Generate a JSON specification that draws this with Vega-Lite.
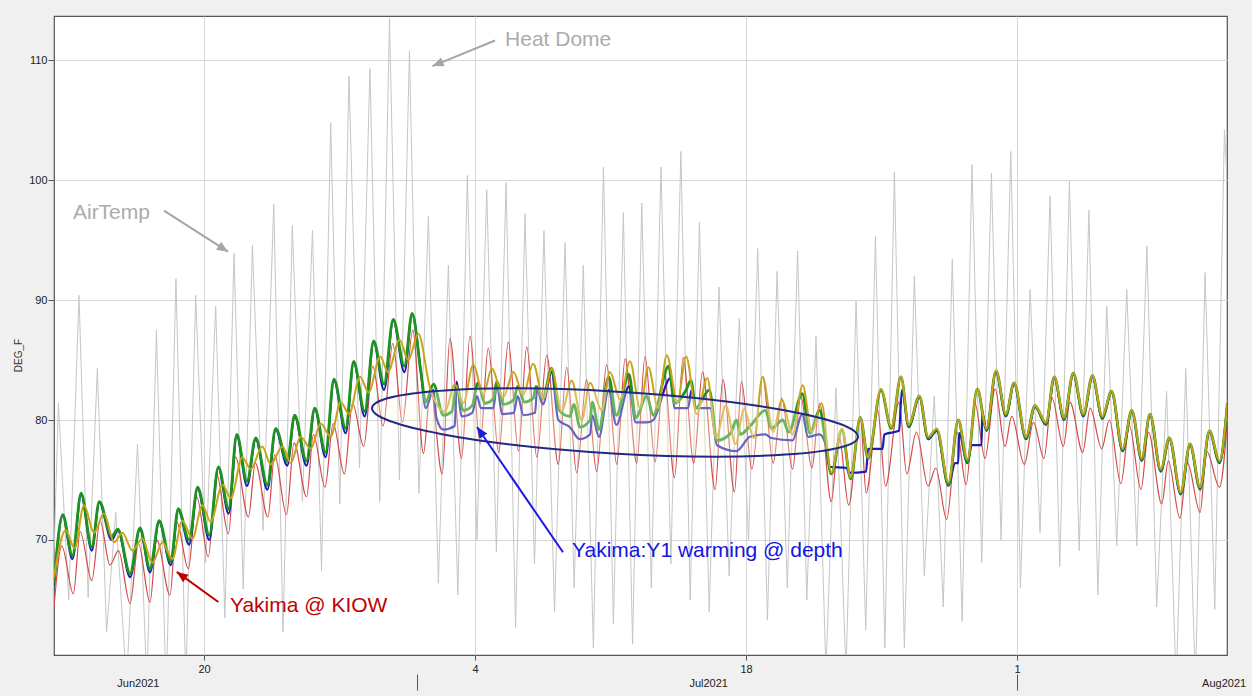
{
"$schema":"https://vega.github.io/schema/vega-lite/v6.json",
"width":1173,"height":639,
"autosize":{"type":"none"},
"padding":{"left":54,"top":16,"right":25,"bottom":41},
"background":"#f0f0f0",
"config":{"view":{"fill":"white","stroke":"#555555","strokeWidth":1.2},"font":"Liberation Sans"},
"datasets":{
"air":[{"t":"2021-06-12T04:00","v":64},{"t":"2021-06-12T11:30","v":81.4},{"t":"2021-06-13T00:15","v":65.0},{"t":"2021-06-13T13:00","v":90.4},{"t":"2021-06-14T00:20","v":65.2},{"t":"2021-06-14T11:45","v":84.3},{"t":"2021-06-14T23:10","v":62.3},{"t":"2021-06-15T10:30","v":72.3},{"t":"2021-06-16T00:00","v":58},{"t":"2021-06-16T13:30","v":78.0},{"t":"2021-06-17T01:10","v":58},{"t":"2021-06-17T13:00","v":87.5},{"t":"2021-06-18T01:05","v":57},{"t":"2021-06-18T13:10","v":91.8},{"t":"2021-06-19T01:25","v":58},{"t":"2021-06-19T13:40","v":90.4},{"t":"2021-06-20T02:00","v":68.1},{"t":"2021-06-20T14:25","v":89.5},{"t":"2021-06-21T01:50","v":63.5},{"t":"2021-06-21T13:10","v":93.9},{"t":"2021-06-22T00:35","v":65.9},{"t":"2021-06-22T12:00","v":94.6},{"t":"2021-06-23T01:10","v":70.8},{"t":"2021-06-23T14:25","v":98.0},{"t":"2021-06-24T01:55","v":62.3},{"t":"2021-06-24T13:25","v":96.2},{"t":"2021-06-25T01:55","v":73.2},{"t":"2021-06-25T14:25","v":95.8},{"t":"2021-06-26T01:40","v":67.4},{"t":"2021-06-26T13:00","v":104.8},{"t":"2021-06-27T00:20","v":73.0},{"t":"2021-06-27T11:45","v":108.7},{"t":"2021-06-28T00:45","v":76},{"t":"2021-06-28T13:40","v":109.3},{"t":"2021-06-29T01:50","v":73.2},{"t":"2021-06-29T13:55","v":113.5},{"t":"2021-06-30T02:15","v":75},{"t":"2021-06-30T14:40","v":110.8},{"t":"2021-07-01T02:25","v":73.9},{"t":"2021-07-01T14:10","v":97.0},{"t":"2021-07-02T02:30","v":66.4},{"t":"2021-07-02T14:55","v":92.9},{"t":"2021-07-03T02:40","v":65.4},{"t":"2021-07-03T14:25","v":100.4},{"t":"2021-07-04T02:25","v":70},{"t":"2021-07-04T14:25","v":99.2},{"t":"2021-07-05T02:25","v":69},{"t":"2021-07-05T14:25","v":99.8},{"t":"2021-07-06T02:10","v":62.7},{"t":"2021-07-06T13:55","v":97.2},{"t":"2021-07-07T01:40","v":68},{"t":"2021-07-07T13:25","v":95.8},{"t":"2021-07-08T02:30","v":64},{"t":"2021-07-08T15:35","v":94.8},{"t":"2021-07-09T02:50","v":66},{"t":"2021-07-09T14:10","v":92.9},{"t":"2021-07-10T02:40","v":61},{"t":"2021-07-10T15:10","v":101.1},{"t":"2021-07-11T03:30","v":63},{"t":"2021-07-11T15:50","v":97.3},{"t":"2021-07-12T03:15","v":61.3},{"t":"2021-07-12T14:40","v":98.1},{"t":"2021-07-13T02:30","v":66},{"t":"2021-07-13T14:25","v":101.1},{"t":"2021-07-14T02:45","v":68},{"t":"2021-07-14T15:10","v":102.4},{"t":"2021-07-15T02:40","v":65},{"t":"2021-07-15T14:10","v":96.5},{"t":"2021-07-16T02:15","v":64},{"t":"2021-07-16T14:25","v":91.1},{"t":"2021-07-17T03:00","v":67},{"t":"2021-07-17T15:35","v":88.5},{"t":"2021-07-18T03:00","v":70},{"t":"2021-07-18T14:25","v":94.3},{"t":"2021-07-19T02:25","v":63.3},{"t":"2021-07-19T14:25","v":92.4},{"t":"2021-07-20T03:05","v":66},{"t":"2021-07-20T15:50","v":94.1},{"t":"2021-07-21T03:15","v":65},{"t":"2021-07-21T14:40","v":87.0},{"t":"2021-07-22T03:00","v":59},{"t":"2021-07-22T15:20","v":82.7},{"t":"2021-07-23T03:50","v":59},{"t":"2021-07-23T16:20","v":89.9},{"t":"2021-07-24T04:20","v":62.5},{"t":"2021-07-24T16:20","v":95.3},{"t":"2021-07-25T04:05","v":61},{"t":"2021-07-25T15:50","v":100.7},{"t":"2021-07-26T04:10","v":61},{"t":"2021-07-26T16:35","v":92.0},{"t":"2021-07-27T04:55","v":67},{"t":"2021-07-27T17:15","v":82.0},{"t":"2021-07-28T04:25","v":64.4},{"t":"2021-07-28T15:35","v":93.4},{"t":"2021-07-29T03:50","v":63.2},{"t":"2021-07-29T16:05","v":101.3},{"t":"2021-07-30T04:05","v":68.1},{"t":"2021-07-30T16:05","v":100.6},{"t":"2021-07-31T04:05","v":70},{"t":"2021-07-31T16:05","v":102.4},{"t":"2021-08-01T04:05","v":66},{"t":"2021-08-01T16:05","v":90.9},{"t":"2021-08-02T04:25","v":70.6},{"t":"2021-08-02T16:50","v":98.7},{"t":"2021-08-03T04:50","v":67.8},{"t":"2021-08-03T16:50","v":99.9},{"t":"2021-08-04T04:55","v":69.1},{"t":"2021-08-04T17:00","v":97.5},{"t":"2021-08-05T04:05","v":65.4},{"t":"2021-08-05T15:05","v":89.5},{"t":"2021-08-06T03:30","v":69.5},{"t":"2021-08-06T15:50","v":90.9},{"t":"2021-08-07T04:20","v":69.5},{"t":"2021-08-07T16:50","v":94.5},{"t":"2021-08-08T05:00","v":64.4},{"t":"2021-08-08T17:15","v":82.4},{"t":"2021-08-09T05:10","v":58},{"t":"2021-08-09T17:00","v":84.3},{"t":"2021-08-10T05:00","v":58},{"t":"2021-08-10T17:00","v":92.3},{"t":"2021-08-11T05:00","v":64.2},{"t":"2021-08-11T17:00","v":104.2},{"t":"2021-08-11T21:00","v":99}],
"red":[{"t":"2021-06-12T06:00","v":64.4},{"t":"2021-06-12T15:35","v":69.5},{"t":"2021-06-13T06:00","v":65.5},{"t":"2021-06-13T14:25","v":70.7},{"t":"2021-06-14T04:50","v":66.6},{"t":"2021-06-14T15:10","v":71.6},{"t":"2021-06-15T03:20","v":67.9},{"t":"2021-06-15T13:55","v":69.1},{"t":"2021-06-16T04:20","v":64.7},{"t":"2021-06-16T14:40","v":69.7},{"t":"2021-06-17T05:00","v":64.8},{"t":"2021-06-17T13:25","v":70.0},{"t":"2021-06-18T05:45","v":65.4},{"t":"2021-06-18T14:10","v":71.5},{"t":"2021-06-19T04:35","v":67.6},{"t":"2021-06-19T14:55","v":73.6},{"t":"2021-06-20T05:15","v":68.6},{"t":"2021-06-20T15:35","v":75.5},{"t":"2021-06-21T06:15","v":70.5},{"t":"2021-06-21T14:55","v":76.9},{"t":"2021-06-22T07:00","v":71.9},{"t":"2021-06-22T15:35","v":76.4},{"t":"2021-06-23T07:10","v":71.9},{"t":"2021-06-23T15:35","v":77.1},{"t":"2021-06-24T06:15","v":72.1},{"t":"2021-06-24T15:35","v":78.1},{"t":"2021-06-25T07:10","v":73.6},{"t":"2021-06-25T15:35","v":78.8},{"t":"2021-06-26T06:00","v":74.4},{"t":"2021-06-26T16:05","v":79.7},{"t":"2021-06-27T06:00","v":75.5},{"t":"2021-06-27T16:05","v":81.4},{"t":"2021-06-28T06:00","v":77.8},{"t":"2021-06-28T17:15","v":84.5},{"t":"2021-06-29T06:00","v":79.5},{"t":"2021-06-29T18:00","v":86.4},{"t":"2021-06-30T06:00","v":79.8},{"t":"2021-06-30T18:45","v":87.5},{"t":"2021-07-01T08:00","v":77.2},{"t":"2021-07-01T16:50","v":82.7},{"t":"2021-07-02T07:10","v":75.5},{"t":"2021-07-02T16:50","v":86.8},{"t":"2021-07-03T07:10","v":76.8},{"t":"2021-07-03T17:45","v":87.0},{"t":"2021-07-04T06:15","v":78.0},{"t":"2021-07-04T16:20","v":86.0},{"t":"2021-07-05T05:15","v":77.3},{"t":"2021-07-05T17:15","v":86.5},{"t":"2021-07-06T05:45","v":77.4},{"t":"2021-07-06T16:05","v":86.1},{"t":"2021-07-07T04:35","v":76.9},{"t":"2021-07-07T16:50","v":85.4},{"t":"2021-07-08T07:10","v":76.3},{"t":"2021-07-08T17:30","v":84.4},{"t":"2021-07-09T06:00","v":75.6},{"t":"2021-07-09T18:15","v":83.4},{"t":"2021-07-10T06:40","v":75.7},{"t":"2021-07-10T19:10","v":84.6},{"t":"2021-07-11T07:40","v":76.3},{"t":"2021-07-11T18:00","v":85.1},{"t":"2021-07-12T08:25","v":76.4},{"t":"2021-07-12T18:45","v":85.3},{"t":"2021-07-13T07:10","v":76.5},{"t":"2021-07-13T18:00","v":84.2},{"t":"2021-07-14T07:10","v":75.2},{"t":"2021-07-14T18:00","v":85.2},{"t":"2021-07-15T07:10","v":76.4},{"t":"2021-07-15T18:00","v":84.0},{"t":"2021-07-16T09:35","v":74.2},{"t":"2021-07-16T19:10","v":83.4},{"t":"2021-07-17T09:35","v":74.0},{"t":"2021-07-17T18:15","v":83.2},{"t":"2021-07-18T07:10","v":75.9},{"t":"2021-07-18T20:25","v":83.6},{"t":"2021-07-19T09:35","v":76.4},{"t":"2021-07-19T20:10","v":81.8},{"t":"2021-07-20T09:35","v":75.9},{"t":"2021-07-20T19:40","v":82.0},{"t":"2021-07-21T09:35","v":76.0},{"t":"2021-07-21T19:10","v":81.4},{"t":"2021-07-22T09:35","v":73.2},{"t":"2021-07-22T19:10","v":78.7},{"t":"2021-07-23T07:10","v":72.9},{"t":"2021-07-23T21:35","v":80.3},{"t":"2021-07-24T04:50","v":73.9},{"t":"2021-07-24T19:10","v":80.8},{"t":"2021-07-25T04:50","v":74.5},{"t":"2021-07-25T21:35","v":81.5},{"t":"2021-07-26T07:10","v":75.5},{"t":"2021-07-26T19:10","v":79.0},{"t":"2021-07-27T09:35","v":74.5},{"t":"2021-07-27T19:10","v":76.0},{"t":"2021-07-28T08:40","v":71.7},{"t":"2021-07-28T21:35","v":79.0},{"t":"2021-07-29T08:40","v":74.6},{"t":"2021-07-29T19:40","v":81.4},{"t":"2021-07-30T08:10","v":76.8},{"t":"2021-07-30T20:40","v":82.6},{"t":"2021-07-31T08:55","v":77.8},{"t":"2021-07-31T17:15","v":80.3},{"t":"2021-08-01T08:55","v":76.3},{"t":"2021-08-01T20:10","v":79.8},{"t":"2021-08-02T09:20","v":76.8},{"t":"2021-08-02T18:55","v":81.9},{"t":"2021-08-03T09:20","v":77.8},{"t":"2021-08-03T17:30","v":81.5},{"t":"2021-08-04T09:20","v":77.3},{"t":"2021-08-04T18:30","v":81.0},{"t":"2021-08-05T08:55","v":77.6},{"t":"2021-08-05T18:15","v":80.0},{"t":"2021-08-06T08:40","v":74.7},{"t":"2021-08-06T19:10","v":79.5},{"t":"2021-08-07T09:35","v":74.2},{"t":"2021-08-07T18:45","v":79.0},{"t":"2021-08-08T11:15","v":73.0},{"t":"2021-08-08T19:25","v":76.6},{"t":"2021-08-09T09:50","v":71.8},{"t":"2021-08-09T19:10","v":76.4},{"t":"2021-08-10T10:50","v":72.3},{"t":"2021-08-10T18:55","v":77.4},{"t":"2021-08-11T10:50","v":74.4},{"t":"2021-08-11T20:40","v":80.0}],
"green":[{"t":"2021-06-12T06:00","v":66.4},{"t":"2021-06-12T16:50","v":72.1},{"t":"2021-06-13T04:50","v":68.7},{"t":"2021-06-13T15:35","v":73.9},{"t":"2021-06-14T04:50","v":69.4},{"t":"2021-06-14T14:10","v":73.2},{"t":"2021-06-15T05:30","v":70.3},{"t":"2021-06-15T13:10","v":70.9},{"t":"2021-06-16T04:20","v":67.2},{"t":"2021-06-16T16:35","v":71.0},{"t":"2021-06-17T05:00","v":67.6},{"t":"2021-06-17T16:20","v":71.6},{"t":"2021-06-18T06:40","v":68.2},{"t":"2021-06-18T16:05","v":72.6},{"t":"2021-06-19T05:30","v":70.0},{"t":"2021-06-19T16:05","v":74.4},{"t":"2021-06-20T06:30","v":70.4},{"t":"2021-06-20T17:45","v":76.1},{"t":"2021-06-21T06:30","v":72.6},{"t":"2021-06-21T16:35","v":78.8},{"t":"2021-06-22T05:15","v":74.9},{"t":"2021-06-22T16:05","v":78.5},{"t":"2021-06-23T06:30","v":74.6},{"t":"2021-06-23T16:50","v":79.3},{"t":"2021-06-24T07:10","v":76.6},{"t":"2021-06-24T16:20","v":80.4},{"t":"2021-06-25T07:00","v":76.6},{"t":"2021-06-25T17:15","v":81.0},{"t":"2021-06-26T06:40","v":77.3},{"t":"2021-06-26T17:00","v":83.4},{"t":"2021-06-27T07:40","v":79.3},{"t":"2021-06-27T17:30","v":84.9},{"t":"2021-06-28T07:10","v":80.7},{"t":"2021-06-28T18:15","v":86.6},{"t":"2021-06-29T07:10","v":83.0},{"t":"2021-06-29T18:30","v":88.4},{"t":"2021-06-30T08:25","v":84.5},{"t":"2021-06-30T18:00","v":88.9},{"t":"2021-07-01T04:50","v":84.0},{"t":"2021-07-01T10:50","v":81.5},{"t":"2021-07-01T20:25","v":83.0},{"t":"2021-07-02T08:40","v":80.4},{"t":"2021-07-02T19:10","v":80.7},{"t":"2021-07-03T01:10","v":82.8},{"t":"2021-07-03T09:20","v":80.8},{"t":"2021-07-03T20:25","v":81.2},{"t":"2021-07-04T03:35","v":83.1},{"t":"2021-07-04T12:00","v":81.4},{"t":"2021-07-04T22:50","v":81.8},{"t":"2021-07-05T02:55","v":83.2},{"t":"2021-07-05T11:00","v":81.3},{"t":"2021-07-06T00:00","v":81.7},{"t":"2021-07-06T04:50","v":82.8},{"t":"2021-07-06T13:10","v":81.5},{"t":"2021-07-07T00:00","v":81.8},{"t":"2021-07-07T03:35","v":82.8},{"t":"2021-07-07T12:00","v":81.8},{"t":"2021-07-07T22:50","v":84.3},{"t":"2021-07-08T08:25","v":80.8},{"t":"2021-07-08T21:35","v":80.3},{"t":"2021-07-09T02:25","v":81.3},{"t":"2021-07-09T10:05","v":79.4},{"t":"2021-07-09T22:35","v":80.0},{"t":"2021-07-10T01:10","v":81.5},{"t":"2021-07-10T09:35","v":79.2},{"t":"2021-07-10T21:35","v":83.6},{"t":"2021-07-11T07:10","v":80.4},{"t":"2021-07-11T22:50","v":83.8},{"t":"2021-07-12T07:10","v":80.2},{"t":"2021-07-12T20:50","v":82.0},{"t":"2021-07-13T04:50","v":80.4},{"t":"2021-07-14T00:00","v":84.5},{"t":"2021-07-14T07:10","v":81.4},{"t":"2021-07-14T21:35","v":82.5},{"t":"2021-07-15T03:35","v":83.3},{"t":"2021-07-15T09:35","v":81.0},{"t":"2021-07-16T02:25","v":82.5},{"t":"2021-07-16T12:00","v":78.3},{"t":"2021-07-17T04:50","v":78.9},{"t":"2021-07-17T12:00","v":80.0},{"t":"2021-07-17T16:50","v":78.8},{"t":"2021-07-18T04:50","v":79.5},{"t":"2021-07-19T00:00","v":80.8},{"t":"2021-07-19T07:10","v":79.3},{"t":"2021-07-19T21:35","v":80.0},{"t":"2021-07-20T04:50","v":79.0},{"t":"2021-07-20T21:35","v":82.2},{"t":"2021-07-21T07:10","v":78.9},{"t":"2021-07-21T19:10","v":80.8},{"t":"2021-07-22T02:25","v":78.3},{"t":"2021-07-22T09:35","v":75.5},{"t":"2021-07-22T22:50","v":79.2},{"t":"2021-07-23T09:35","v":75.1},{"t":"2021-07-23T21:35","v":80.2},{"t":"2021-07-24T07:10","v":76.8},{"t":"2021-07-24T23:15","v":82.5},{"t":"2021-07-25T12:00","v":79.3},{"t":"2021-07-26T00:00","v":83.6},{"t":"2021-07-26T09:35","v":79.5},{"t":"2021-07-26T22:50","v":82.0},{"t":"2021-07-27T09:35","v":78.5},{"t":"2021-07-27T20:25","v":79.2},{"t":"2021-07-28T10:50","v":74.6},{"t":"2021-07-28T23:00","v":80.0},{"t":"2021-07-29T10:20","v":76.5},{"t":"2021-07-29T22:35","v":82.6},{"t":"2021-07-30T10:05","v":79.2},{"t":"2021-07-30T21:50","v":84.1},{"t":"2021-07-31T10:05","v":80.4},{"t":"2021-07-31T20:10","v":83.1},{"t":"2021-08-01T11:00","v":78.5},{"t":"2021-08-01T22:05","v":81.2},{"t":"2021-08-02T11:45","v":79.7},{"t":"2021-08-02T22:05","v":83.6},{"t":"2021-08-03T10:05","v":80.1},{"t":"2021-08-03T21:35","v":83.9},{"t":"2021-08-04T10:05","v":80.4},{"t":"2021-08-04T21:20","v":83.7},{"t":"2021-08-05T09:35","v":80.2},{"t":"2021-08-05T21:05","v":82.4},{"t":"2021-08-06T10:50","v":77.5},{"t":"2021-08-06T22:05","v":80.8},{"t":"2021-08-07T10:35","v":76.7},{"t":"2021-08-07T20:40","v":80.5},{"t":"2021-08-08T10:05","v":75.8},{"t":"2021-08-08T20:40","v":78.5},{"t":"2021-08-09T10:50","v":73.9},{"t":"2021-08-09T22:20","v":78.0},{"t":"2021-08-10T10:50","v":74.3},{"t":"2021-08-10T22:20","v":79.1},{"t":"2021-08-11T10:50","v":76.5},{"t":"2021-08-11T20:40","v":81.4}],
"blue":[{"t":"2021-06-12T06:00","v":66.2},{"t":"2021-06-12T16:50","v":72.0},{"t":"2021-06-13T04:50","v":68.4},{"t":"2021-06-13T15:35","v":73.8},{"t":"2021-06-14T04:50","v":69.1},{"t":"2021-06-14T14:10","v":73.1},{"t":"2021-06-15T05:30","v":70.0},{"t":"2021-06-15T13:10","v":70.8},{"t":"2021-06-16T04:20","v":66.9},{"t":"2021-06-16T16:35","v":70.9},{"t":"2021-06-17T05:00","v":67.3},{"t":"2021-06-17T16:20","v":71.5},{"t":"2021-06-18T06:40","v":67.9},{"t":"2021-06-18T16:05","v":72.5},{"t":"2021-06-19T05:30","v":69.6},{"t":"2021-06-19T16:05","v":74.3},{"t":"2021-06-20T06:30","v":70.0},{"t":"2021-06-20T17:45","v":76.0},{"t":"2021-06-21T06:30","v":72.2},{"t":"2021-06-21T16:35","v":78.7},{"t":"2021-06-22T05:15","v":74.5},{"t":"2021-06-22T16:05","v":78.4},{"t":"2021-06-23T06:30","v":74.2},{"t":"2021-06-23T16:50","v":79.2},{"t":"2021-06-24T07:10","v":76.2},{"t":"2021-06-24T16:20","v":80.3},{"t":"2021-06-25T07:00","v":76.2},{"t":"2021-06-25T17:15","v":80.9},{"t":"2021-06-26T06:40","v":76.9},{"t":"2021-06-26T17:00","v":83.3},{"t":"2021-06-27T07:40","v":78.9},{"t":"2021-06-27T17:30","v":84.8},{"t":"2021-06-28T07:10","v":80.3},{"t":"2021-06-28T18:15","v":86.5},{"t":"2021-06-29T07:10","v":82.5},{"t":"2021-06-29T18:30","v":88.3},{"t":"2021-06-30T08:25","v":84.0},{"t":"2021-06-30T18:00","v":88.8},{"t":"2021-07-01T04:50","v":84.0},{"t":"2021-07-01T10:50","v":81.0},{"t":"2021-07-01T20:25","v":82.5},{"t":"2021-07-02T00:00","v":80.2},{"t":"2021-07-02T08:40","v":79.2},{"t":"2021-07-02T22:50","v":79.5},{"t":"2021-07-03T01:10","v":83.2},{"t":"2021-07-03T07:10","v":80.3},{"t":"2021-07-03T20:25","v":80.6},{"t":"2021-07-04T02:25","v":82.0},{"t":"2021-07-04T07:10","v":81.0},{"t":"2021-07-04T22:50","v":81.0},{"t":"2021-07-05T02:55","v":83.0},{"t":"2021-07-05T09:35","v":80.5},{"t":"2021-07-06T00:00","v":80.6},{"t":"2021-07-06T04:50","v":82.0},{"t":"2021-07-06T12:00","v":80.4},{"t":"2021-07-07T02:25","v":80.6},{"t":"2021-07-07T04:50","v":82.6},{"t":"2021-07-07T12:00","v":81.3},{"t":"2021-07-07T22:50","v":84.0},{"t":"2021-07-08T07:10","v":80.0},{"t":"2021-07-08T21:35","v":79.4},{"t":"2021-07-09T09:35","v":78.4},{"t":"2021-07-09T22:35","v":78.8},{"t":"2021-07-10T01:10","v":80.4},{"t":"2021-07-10T09:35","v":78.6},{"t":"2021-07-10T21:35","v":82.5},{"t":"2021-07-11T07:10","v":79.6},{"t":"2021-07-11T22:50","v":82.8},{"t":"2021-07-12T07:10","v":79.8},{"t":"2021-07-12T20:50","v":79.8},{"t":"2021-07-13T04:50","v":80.0},{"t":"2021-07-14T02:25","v":83.5},{"t":"2021-07-14T07:10","v":81.0},{"t":"2021-07-15T00:00","v":81.0},{"t":"2021-07-15T04:50","v":82.6},{"t":"2021-07-15T09:35","v":81.0},{"t":"2021-07-16T03:35","v":81.0},{"t":"2021-07-16T12:00","v":77.9},{"t":"2021-07-17T12:00","v":77.4},{"t":"2021-07-18T04:50","v":78.6},{"t":"2021-07-19T00:00","v":78.8},{"t":"2021-07-19T07:10","v":78.5},{"t":"2021-07-20T09:35","v":78.3},{"t":"2021-07-20T21:35","v":80.5},{"t":"2021-07-21T04:50","v":78.6},{"t":"2021-07-21T19:10","v":78.8},{"t":"2021-07-22T02:25","v":78.0},{"t":"2021-07-22T07:10","v":76.1},{"t":"2021-07-23T04:50","v":76.0},{"t":"2021-07-23T07:10","v":75.6},{"t":"2021-07-24T04:50","v":75.7},{"t":"2021-07-24T07:10","v":77.6},{"t":"2021-07-25T01:10","v":77.6},{"t":"2021-07-25T03:20","v":78.8},{"t":"2021-07-25T21:35","v":79.1},{"t":"2021-07-26T01:10","v":82.5},{"t":"2021-07-26T09:35","v":79.4},{"t":"2021-07-26T22:50","v":81.9},{"t":"2021-07-27T09:35","v":78.4},{"t":"2021-07-27T20:25","v":79.1},{"t":"2021-07-28T10:50","v":74.5},{"t":"2021-07-28T19:10","v":76.4},{"t":"2021-07-28T23:00","v":76.4},{"t":"2021-07-29T00:00","v":78.9},{"t":"2021-07-29T10:20","v":76.4},{"t":"2021-07-29T15:35","v":77.9},{"t":"2021-07-30T03:50","v":77.9},{"t":"2021-07-30T04:50","v":80.6},{"t":"2021-07-30T10:05","v":79.1},{"t":"2021-07-30T21:50","v":84.0},{"t":"2021-07-31T10:05","v":80.3},{"t":"2021-07-31T20:10","v":83.0},{"t":"2021-08-01T11:00","v":78.4},{"t":"2021-08-01T22:05","v":81.1},{"t":"2021-08-02T11:45","v":79.6},{"t":"2021-08-02T22:05","v":83.5},{"t":"2021-08-03T10:05","v":80.0},{"t":"2021-08-03T21:35","v":83.8},{"t":"2021-08-04T10:05","v":80.3},{"t":"2021-08-04T21:20","v":83.6},{"t":"2021-08-05T09:35","v":80.1},{"t":"2021-08-05T21:05","v":82.3},{"t":"2021-08-06T10:50","v":77.4},{"t":"2021-08-06T22:05","v":80.7},{"t":"2021-08-07T10:35","v":76.6},{"t":"2021-08-07T20:40","v":80.4},{"t":"2021-08-08T10:05","v":75.7},{"t":"2021-08-08T20:40","v":78.4},{"t":"2021-08-09T10:50","v":73.8},{"t":"2021-08-09T22:20","v":77.9},{"t":"2021-08-10T10:50","v":74.2},{"t":"2021-08-10T22:20","v":79.0},{"t":"2021-08-11T10:50","v":76.4},{"t":"2021-08-11T20:40","v":81.3}],
"olive":[{"t":"2021-06-12T06:00","v":66.9},{"t":"2021-06-12T20:25","v":70.8},{"t":"2021-06-13T07:40","v":69.3},{"t":"2021-06-13T19:10","v":72.9},{"t":"2021-06-14T07:40","v":70.6},{"t":"2021-06-14T19:55","v":72.2},{"t":"2021-06-15T08:25","v":69.8},{"t":"2021-06-15T18:45","v":70.6},{"t":"2021-06-16T07:10","v":69.1},{"t":"2021-06-16T19:25","v":70.1},{"t":"2021-06-17T08:00","v":68.1},{"t":"2021-06-17T20:25","v":69.8},{"t":"2021-06-18T08:40","v":68.4},{"t":"2021-06-18T21:05","v":71.6},{"t":"2021-06-19T09:35","v":70.1},{"t":"2021-06-19T21:50","v":72.9},{"t":"2021-06-20T08:10","v":71.5},{"t":"2021-06-20T22:50","v":74.6},{"t":"2021-06-21T09:05","v":73.5},{"t":"2021-06-21T23:30","v":76.9},{"t":"2021-06-22T09:50","v":75.9},{"t":"2021-06-23T00:15","v":77.8},{"t":"2021-06-23T10:35","v":76.3},{"t":"2021-06-24T01:10","v":77.8},{"t":"2021-06-24T11:30","v":76.4},{"t":"2021-06-24T23:45","v":78.6},{"t":"2021-06-25T12:15","v":77.6},{"t":"2021-06-26T00:45","v":79.7},{"t":"2021-06-26T13:00","v":78.6},{"t":"2021-06-27T01:25","v":81.5},{"t":"2021-06-27T11:45","v":80.5},{"t":"2021-06-28T01:25","v":83.6},{"t":"2021-06-28T12:00","v":82.3},{"t":"2021-06-29T02:25","v":85.3},{"t":"2021-06-29T12:00","v":84.0},{"t":"2021-06-30T02:25","v":86.7},{"t":"2021-06-30T13:10","v":85.0},{"t":"2021-07-01T01:40","v":87.2},{"t":"2021-07-01T16:05","v":82.7},{"t":"2021-07-02T10:50","v":80.7},{"t":"2021-07-02T22:50","v":83.0},{"t":"2021-07-03T09:20","v":81.4},{"t":"2021-07-03T21:50","v":84.6},{"t":"2021-07-04T10:20","v":82.1},{"t":"2021-07-04T20:40","v":84.3},{"t":"2021-07-05T11:00","v":81.9},{"t":"2021-07-05T23:30","v":84.0},{"t":"2021-07-06T11:45","v":82.1},{"t":"2021-07-07T00:00","v":84.7},{"t":"2021-07-07T12:45","v":81.8},{"t":"2021-07-07T23:00","v":84.3},{"t":"2021-07-08T11:30","v":80.7},{"t":"2021-07-08T23:45","v":83.3},{"t":"2021-07-09T12:15","v":80.0},{"t":"2021-07-09T22:35","v":83.1},{"t":"2021-07-10T13:00","v":80.8},{"t":"2021-07-10T23:15","v":84.0},{"t":"2021-07-11T11:45","v":81.7},{"t":"2021-07-12T00:00","v":84.9},{"t":"2021-07-12T12:30","v":81.0},{"t":"2021-07-12T22:50","v":84.4},{"t":"2021-07-13T10:50","v":81.0},{"t":"2021-07-13T21:35","v":85.4},{"t":"2021-07-14T10:50","v":81.5},{"t":"2021-07-14T21:35","v":85.3},{"t":"2021-07-15T10:50","v":80.5},{"t":"2021-07-16T00:00","v":83.5},{"t":"2021-07-16T10:50","v":78.5},{"t":"2021-07-16T22:50","v":81.2},{"t":"2021-07-17T10:50","v":78.0},{"t":"2021-07-17T21:35","v":80.9},{"t":"2021-07-18T09:35","v":78.5},{"t":"2021-07-18T20:25","v":83.6},{"t":"2021-07-19T09:35","v":79.0},{"t":"2021-07-19T20:10","v":81.7},{"t":"2021-07-20T09:35","v":78.8},{"t":"2021-07-20T22:05","v":82.9},{"t":"2021-07-21T09:35","v":79.0},{"t":"2021-07-21T21:35","v":81.4},{"t":"2021-07-22T09:35","v":75.6},{"t":"2021-07-22T22:50","v":79.3},{"t":"2021-07-23T09:35","v":75.2},{"t":"2021-07-23T21:35","v":80.2},{"t":"2021-07-24T07:10","v":76.9},{"t":"2021-07-24T23:15","v":82.6},{"t":"2021-07-25T12:00","v":79.4},{"t":"2021-07-26T00:00","v":83.6},{"t":"2021-07-26T09:35","v":79.6},{"t":"2021-07-26T22:50","v":82.0},{"t":"2021-07-27T09:35","v":78.6},{"t":"2021-07-27T20:25","v":79.3},{"t":"2021-07-28T10:50","v":74.8},{"t":"2021-07-28T23:00","v":80.0},{"t":"2021-07-29T10:20","v":76.7},{"t":"2021-07-29T22:35","v":82.6},{"t":"2021-07-30T10:05","v":79.3},{"t":"2021-07-30T21:50","v":84.1},{"t":"2021-07-31T10:05","v":80.5},{"t":"2021-07-31T20:10","v":83.1},{"t":"2021-08-01T11:00","v":78.6},{"t":"2021-08-01T22:05","v":81.2},{"t":"2021-08-02T11:45","v":79.8},{"t":"2021-08-02T22:05","v":83.6},{"t":"2021-08-03T10:05","v":80.2},{"t":"2021-08-03T21:35","v":83.9},{"t":"2021-08-04T10:05","v":80.5},{"t":"2021-08-04T21:20","v":83.7},{"t":"2021-08-05T09:35","v":80.3},{"t":"2021-08-05T21:05","v":82.4},{"t":"2021-08-06T10:50","v":77.6},{"t":"2021-08-06T22:05","v":80.8},{"t":"2021-08-07T10:35","v":76.8},{"t":"2021-08-07T20:40","v":80.5},{"t":"2021-08-08T10:05","v":75.9},{"t":"2021-08-08T20:40","v":78.5},{"t":"2021-08-09T10:50","v":74.0},{"t":"2021-08-09T22:20","v":78.0},{"t":"2021-08-10T10:50","v":74.4},{"t":"2021-08-10T22:20","v":79.1},{"t":"2021-08-11T10:50","v":76.6},{"t":"2021-08-11T20:40","v":81.4}]
},
"encoding":{
"x":{"field":"t","type":"temporal","scale":{"domain":[{"year":2021,"month":6,"date":12,"hours":6},{"year":2021,"month":8,"date":11,"hours":20,"minutes":10}]},"axis":null},
"y":{"field":"v","type":"quantitative","scale":{"domain":[60.4,113.7],"nice":false,"zero":false},"axis":{"values":[70,80,90,100,110],"grid":true,"gridColor":"#d6d6d6","tickSize":6,"tickColor":"#555555","labelFontSize":11,"labelColor":"#222222","labelPadding":1,"domain":false,"title":"DEG_F","titleFontSize":10,"titleFontWeight":"normal","titleColor":"#333333","titleX":-36,"titleY":339,"titleAngle":-90,"titleAlign":"center","titleBaseline":"middle"}}
},
"layer":[
{"data":{"name":"air"},"mark":{"type":"line","color":"#c6c6c6","strokeWidth":1,"clip":true},
 "encoding":{"x":{"field":"t","type":"temporal","scale":{"domain":[{"year":2021,"month":6,"date":12,"hours":6},{"year":2021,"month":8,"date":11,"hours":20,"minutes":10}]},
 "axis":{"orient":"bottom","values":[{"year":2021,"month":6,"date":20},{"year":2021,"month":7,"date":4},{"year":2021,"month":7,"date":18},{"year":2021,"month":8,"date":1}],"format":"%-d","grid":true,"gridColor":"#d6d6d6","tickSize":5,"tickColor":"#555555","labelPadding":3,"labelFontSize":11,"labelColor":"#222222","domain":false,"title":null,"labelFlush":false,"labelOverlap":false}}}},
{"data":{"name":"red"},"mark":{"type":"line","color":"#d24a4a","strokeWidth":1.2,"interpolate":"monotone","clip":true},
 "encoding":{"x":{"field":"t","type":"temporal","scale":{"domain":[{"year":2021,"month":6,"date":12,"hours":6},{"year":2021,"month":8,"date":11,"hours":20,"minutes":10}]},
 "axis":{"orient":"bottom","values":[{"year":2021,"month":6,"date":16,"hours":14},{"year":2021,"month":7,"date":16,"hours":1},{"year":2021,"month":8,"date":11,"hours":16}],"labelExpr":"timeFormat(datum.value, '%b%Y')","ticks":false,"tickSize":0,"grid":false,"domain":false,"labelPadding":22,"labelFontSize":11,"labelColor":"#222222","title":null,"labelFlush":false,"labelOverlap":false}}}},
{"data":{"name":"blue"},"mark":{"type":"line","color":"#1c1cb0","strokeWidth":2.2,"interpolate":"monotone","clip":true},
 "encoding":{"x":{"field":"t","type":"temporal","scale":{"domain":[{"year":2021,"month":6,"date":12,"hours":6},{"year":2021,"month":8,"date":11,"hours":20,"minutes":10}]},
 "axis":{"orient":"bottom","values":[{"year":2021,"month":7,"date":1},{"year":2021,"month":8,"date":1}],"labels":false,"grid":false,"domain":false,"tickSize":16,"offset":19,"tickColor":"#555555","title":null}}}},
{"data":{"name":"green"},"mark":{"type":"line","color":"#1d951d","strokeWidth":2.8,"interpolate":"monotone","clip":true}},
{"data":{"name":"olive"},"mark":{"type":"line","color":"#c9a31c","strokeWidth":2,"interpolate":"monotone","clip":true}},
{"data":{"values":[{"t":"2021-07-11T05:30","v":79.79}]},"mark":{"type":"point","shape":"M -1 0 A 1 0.127 0 1 1 1 0 A 1 0.127 0 1 1 -1 0 Z","size":236974,"angle":3.4,"filled":true,"fill":"#fffbe8","fillOpacity":0.32,"stroke":"#1f2a85","strokeWidth":2,"strokeOpacity":1,"opacity":1}},
{"data":{"values":[{"t":"2021-07-05T00:45","v":111.66,"t2":"2021-07-01T19:10","v2":109.52}],"format":{"parse":{"t":"date","t2":"date"}}},"mark":{"type":"rule","color":"#a6a6a6","strokeWidth":2},"encoding":{"x2":{"field":"t2"},"y2":{"field":"v2"}}},
{"data":{"values":[{"t":"2021-07-01T19:10","v":109.52}]},"mark":{"type":"point","shape":"M 0 0 L -0.42 1 L 0.42 1 Z","size":500,"angle":247.6,"filled":true,"color":"#a6a6a6","opacity":1}},
{"data":{"values":[{"t":"2021-07-05T13:10","v":111.66,"label":"Heat Dome"}]},"mark":{"type":"text","align":"left","baseline":"middle","fontSize":21,"color":"#ababab"},"encoding":{"text":{"field":"label"}}},
{"data":{"values":[{"t":"2021-06-17T22:20","v":97.46,"t2":"2021-06-21T05:45","v2":94.04}],"format":{"parse":{"t":"date","t2":"date"}}},"mark":{"type":"rule","color":"#a6a6a6","strokeWidth":2},"encoding":{"x2":{"field":"t2"},"y2":{"field":"v2"}}},
{"data":{"values":[{"t":"2021-06-21T05:45","v":94.04}]},"mark":{"type":"point","shape":"M 0 0 L -0.42 1 L 0.42 1 Z","size":500,"angle":122.6,"filled":true,"color":"#a6a6a6","opacity":1}},
{"data":{"values":[{"t":"2021-06-13T05:30","v":97.29,"label":"AirTemp"}]},"mark":{"type":"text","align":"left","baseline":"middle","fontSize":21,"color":"#ababab"},"encoding":{"text":{"field":"label"}}},
{"data":{"values":[{"t":"2021-06-20T17:45","v":64.82,"t2":"2021-06-18T14:10","v2":67.33}],"format":{"parse":{"t":"date","t2":"date"}}},"mark":{"type":"rule","color":"#c00000","strokeWidth":2},"encoding":{"x2":{"field":"t2"},"y2":{"field":"v2"}}},
{"data":{"values":[{"t":"2021-06-18T14:10","v":67.33}]},"mark":{"type":"point","shape":"M 0 0 L -0.42 1 L 0.42 1 Z","size":500,"angle":305.8,"filled":true,"color":"#c00000","opacity":1}},
{"data":{"values":[{"t":"2021-06-21T08:10","v":64.46,"label":"Yakima @ KIOW"}]},"mark":{"type":"text","align":"left","baseline":"middle","fontSize":21,"color":"#c00000"},"encoding":{"text":{"field":"label"}}},
{"data":{"values":[{"t":"2021-07-08T13:00","v":68.97,"t2":"2021-07-04T02:25","v2":79.42}],"format":{"parse":{"t":"date","t2":"date"}}},"mark":{"type":"rule","color":"#1a1ae6","strokeWidth":2},"encoding":{"x2":{"field":"t2"},"y2":{"field":"v2"}}},
{"data":{"values":[{"t":"2021-07-04T02:25","v":79.42}]},"mark":{"type":"point","shape":"M 0 0 L -0.42 1 L 0.42 1 Z","size":500,"angle":325.5,"filled":true,"color":"#1a1ae6","opacity":1}},
{"data":{"values":[{"t":"2021-07-09T00:15","v":69.06,"label":"Yakima:Y1 warming @ depth"}]},"mark":{"type":"text","align":"left","baseline":"middle","fontSize":21,"color":"#1414e0"},"encoding":{"text":{"field":"label"}}}
],
"resolve":{"axis":{"x":"independent"}}
}
